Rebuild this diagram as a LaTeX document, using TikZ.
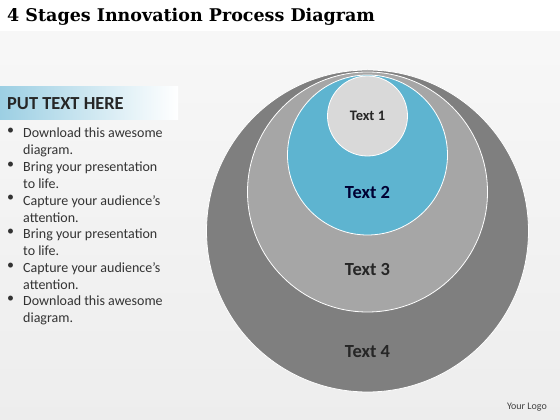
\documentclass[tikz,border=0pt]{standalone}
\usepackage{fontspec}
\setmainfont{Carlito}
\newfontfamily\titlefont{DejaVu Serif}

\definecolor{ringfour}{HTML}{7F7F7F}
\definecolor{ringthree}{HTML}{A6A6A6}
\definecolor{ringtwo}{HTML}{5EB4D0}
\definecolor{ringone}{HTML}{D9D9D9}
\definecolor{headblue}{HTML}{9CCFE3}

\tikzset{
  ring/.style={circle, draw=white, line width=0.8pt, inner sep=0pt},
  ringlabel/.style={font=\bfseries\fontsize{18.5}{20}\selectfont, text=black!85},
  bullettext/.style={anchor=north west, align=left, inner sep=0pt,
    font=\fontsize{14}{16.8}\selectfont, text=black!80}
}

\begin{document}
\begin{tikzpicture}[x=1pt,y=1pt]
  \useasboundingbox (0,0) rectangle (560,420);
  % background
  \fill[white] (0,0) rectangle (560,420);
  \shade[top color=black!3, bottom color=black!7] (0,0) rectangle (560,388);
  \node[anchor=base west, inner sep=0pt, font=\titlefont\bfseries\fontsize{17.5}{20}\selectfont] (title) at (7,398) {4 Stages Innovation Process Diagram};

  % left panel
  \shade[left color=headblue, right color=white] (0,300) rectangle (178,333);
  \node[anchor=base west, inner sep=0pt, font=\bfseries\fontsize{18.4}{20}\selectfont, text=black!85] (head) at (7,310) {PUT TEXT HERE};
  \foreach[count=\i] \t in {{Download this awesome\\diagram.}, {Bring your presentation\\to life.},
      {Capture your audience’s\\attention.}, {Bring your presentation\\to life.},
      {Capture your audience’s\\attention.}, {Download this awesome\\diagram.}} {
    \node[bullettext] (item\i) at (23,{292-33.6*(\i-1)}) {\t};
    \node[bullettext] (dot\i) at (7,{292-33.6*(\i-1)}) {•};
  }

  % rings
  \node[ring, fill=ringfour, minimum size=322] (r4) at (367.5,189) {};
  \node[ring, fill=ringthree, minimum size=240] (r3) at (367.5,228) {};
  \node[ring, fill=ringtwo, minimum size=160] (r2) at (367.5,265) {};
  \node[ring, fill=ringone, minimum size=80] (r1) at (367.5,304) {};
  \node[ringlabel, font=\bfseries\fontsize{14.5}{16}\selectfont] (t1) at (r1) {Text 1};
  \node[ringlabel, text=black!80!blue] (t2) at (367.5,227) {Text 2};
  \node[ringlabel] (t3) at (367.5,150) {Text 3};
  \node[ringlabel] (t4) at (367.5,68) {Text 4};

  \node[anchor=east, inner sep=0pt, font=\fontsize{10}{12}\selectfont, text=black!75] (logo) at (547,13) {Your Logo};
\end{tikzpicture}
\end{document}
